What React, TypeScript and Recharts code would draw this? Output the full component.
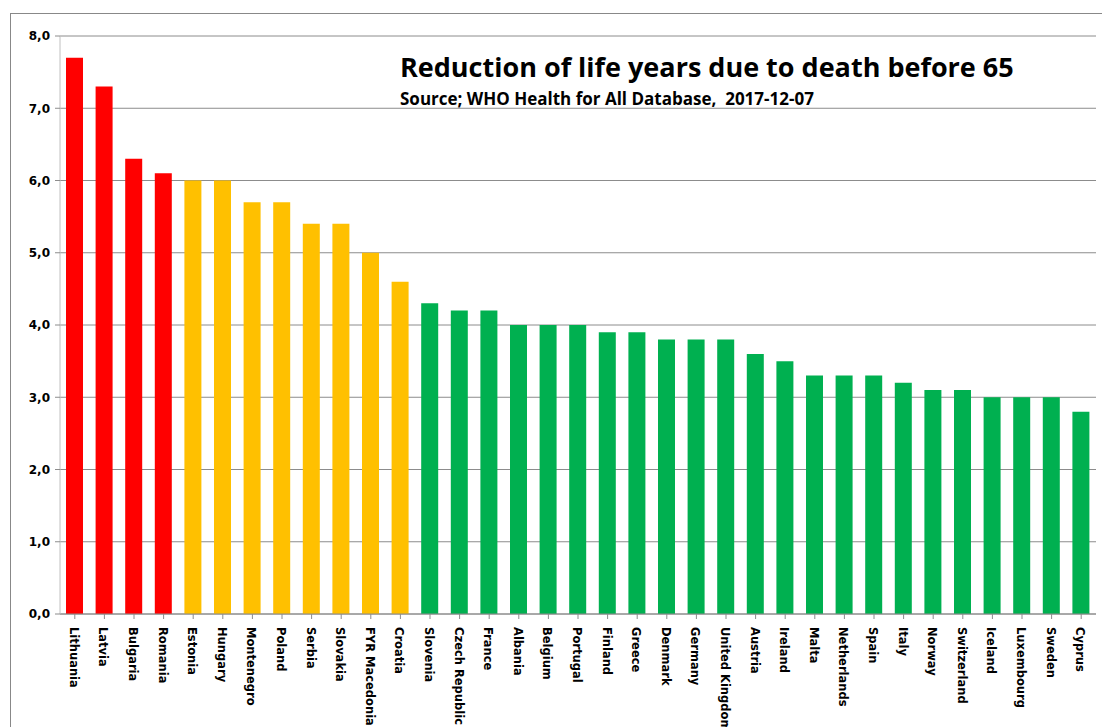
import { BarChart, Bar, XAxis, YAxis, CartesianGrid, Cell } from 'recharts';

const countries = [
  'Lithuania', 'Latvia', 'Bulgaria', 'Romania', 'Estonia', 'Hungary', 'Montenegro', 'Poland',
  'Serbia', 'Slovakia', 'FYR Macedonia', 'Croatia', 'Slovenia', 'Czech Republic', 'France',
  'Albania', 'Belgium', 'Portugal', 'Finland', 'Greece', 'Denmark', 'Germany', 'United Kingdom',
  'Austria', 'Ireland', 'Malta', 'Netherlands', 'Spain', 'Italy', 'Norway', 'Switzerland',
  'Iceland', 'Luxembourg', 'Sweden', 'Cyprus',
];

const years = [
  7.7, 7.3, 6.3, 6.1, 6.0, 6.0, 5.7, 5.7,
  5.4, 5.4, 5.0, 4.6, 4.3, 4.2, 4.2,
  4.0, 4.0, 4.0, 3.9, 3.9, 3.8, 3.8, 3.8,
  3.6, 3.5, 3.3, 3.3, 3.3, 3.2, 3.1, 3.1,
  3.0, 3.0, 3.0, 2.8,
];

// how many countries fall in the red and amber groups, rest are green
const redCount = 4;
const amberCount = 8;

const yTicks = [0, 1, 2, 3, 4, 5, 6, 7, 8];

const data = countries.map((name, i) => ({ name, value: years[i] }));

const colorFor = (i: number) =>
  i < redCount ? '#FF0000' : i < redCount + amberCount ? '#FFC000' : '#00B050';

const font = '"DejaVu Sans", Verdana, sans-serif';

const CountryTick = (props: any) => {
  const { x, y, payload } = props;
  return (
    <text
      transform={`translate(${x - 5},${y + 6}) rotate(90)`}
      textAnchor="start"
      fontFamily={font}
      fontWeight="bold"
      fontSize={11.5}
      fill="#000"
    >
      {payload.value}
    </text>
  );
};

export default function App() {
  return (
    <div style={{ position: 'absolute', left: 0, top: 0, width: 1102, height: 727, background: '#fff', overflow: 'hidden' }}>
      <div
        style={{
          position: 'absolute',
          left: 10,
          top: 13,
          width: 1100,
          height: 720,
          borderTop: '1px solid #888',
          borderLeft: '1px solid #888',
        }}
      />
      <BarChart
        width={1102}
        height={727}
        data={data}
        margin={{ top: 36, right: 6, left: 10, bottom: 0 }}
        barCategoryGap={0}
      >
        <CartesianGrid vertical={false} stroke="#8c8c8c" strokeWidth={1} />
        <XAxis
          dataKey="name"
          interval={0}
          height={113}
          tick={<CountryTick />}
          tickLine={{ stroke: '#8c8c8c' }}
          axisLine={{ stroke: '#8c8c8c' }}
          tickSize={5}
        />
        <YAxis
          domain={[0, 8]}
          ticks={yTicks}
          width={50}
          tickFormatter={(v: number) => v.toFixed(1).replace('.', ',')}
          tick={{ fontFamily: font, fontWeight: 'bold', fontSize: 12, fill: '#000' }}
          tickLine={{ stroke: '#8c8c8c' }}
          axisLine={{ stroke: '#c0c0c0' }}
          tickSize={5}
          tickMargin={5}
        />
        <Bar dataKey="value" barSize={17} isAnimationActive={false}>
          {data.map((d, i) => (
            <Cell key={d.name} fill={colorFor(i)} />
          ))}
        </Bar>
      </BarChart>
      <div
        style={{
          position: 'absolute',
          left: 400,
          top: 48,
          fontFamily: '"Open Sans", sans-serif',
          fontWeight: 700,
          fontSize: 27,
          color: '#000',
          whiteSpace: 'nowrap',
        }}
      >
        Reduction of life years due to death before 65
      </div>
      <div
        style={{
          position: 'absolute',
          left: 400,
          top: 87,
          fontFamily: '"Open Sans", sans-serif',
          fontWeight: 700,
          fontSize: 17,
          color: '#000',
          whiteSpace: 'nowrap',
        }}
      >
        Source; WHO Health for All Database,&nbsp; 2017-12-07
      </div>
    </div>
  );
}
